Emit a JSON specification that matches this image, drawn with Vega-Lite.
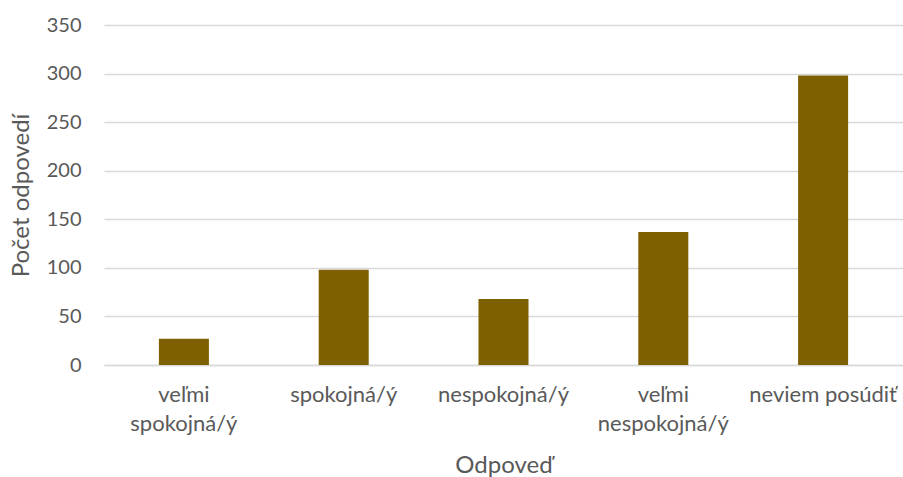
{
  "$schema": "https://vega.github.io/schema/vega-lite/v6.json",
  "width": 799,
  "height": 340,
  "autosize": "none",
  "padding": {"left": 104, "top": 25, "right": 0, "bottom": 112},
  "background": "white",
  "config": {
    "view": {"stroke": null},
    "font": "Lato"
  },
  "data": {
    "values": [
      {"odpoved": "veľmi spokojná/ý", "pocet": 27},
      {"odpoved": "spokojná/ý", "pocet": 98},
      {"odpoved": "nespokojná/ý", "pocet": 68},
      {"odpoved": "veľmi nespokojná/ý", "pocet": 137},
      {"odpoved": "neviem posúdiť", "pocet": 298}
    ]
  },
  "mark": {"type": "bar", "color": "#7F6000"},
  "encoding": {
    "x": {
      "field": "odpoved",
      "type": "nominal",
      "sort": null,
      "title": "Odpoveď",
      "scale": {"paddingInner": 0.687, "paddingOuter": 0.3435},
      "axis": {
        "labelAngle": 0,
        "labelExpr": "indexof(datum.value,'veľmi')==0 ? split(datum.value,' ') : datum.value",
        "labelFontSize": 22,
        "labelColor": "#595959",
        "labelLineHeight": 29,
        "labelPadding": 19,
        "ticks": false,
        "domainColor": "#D9D9D9",
        "domainWidth": 1.5,
        "titleFontSize": 24,
        "titleFontWeight": "normal",
        "titleColor": "#595959",
        "titleBaseline": "alphabetic",
        "titleY": 107
      }
    },
    "y": {
      "field": "pocet",
      "type": "quantitative",
      "title": "Počet odpovedí",
      "scale": {"domain": [0, 350]},
      "axis": {
        "values": [0, 50, 100, 150, 200, 250, 300, 350],
        "labelFontSize": 20,
        "labelColor": "#595959",
        "labelPadding": 23,
        "ticks": false,
        "domain": false,
        "gridColor": "#D9D9D9",
        "gridWidth": 1.5,
        "titleFontSize": 24,
        "titleFontWeight": "normal",
        "titleColor": "#595959",
        "titleX": -71
      }
    }
  }
}
